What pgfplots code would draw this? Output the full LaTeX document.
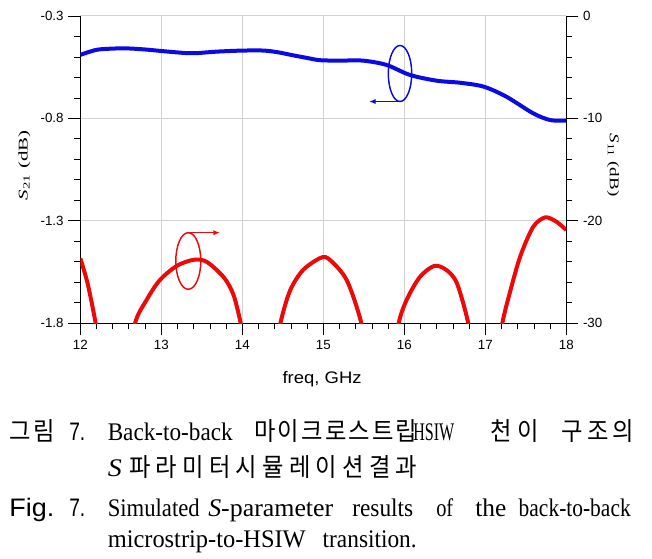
\documentclass[border=0pt]{standalone}
\usepackage{fontspec}
\setmainfont{Liberation Serif}
\setsansfont{Liberation Sans}
\newfontfamily\kr[FakeStretch=0.92]{Noto Sans CJK KR}
\usepackage{graphicx}
\usepackage{pgfplots}
\pgfplotsset{compat=1.18}
\usetikzlibrary{arrows.meta}
\newlength\px \setlength\px{0.75pt}
\newcommand\fw[2]{\resizebox{#1\px}{\height}{#2}}
\definecolor{cblue}{RGB}{10,10,230}
\definecolor{cred}{RGB}{235,10,10}

\begin{document}
\begin{tikzpicture}[px/.style={x=0.75pt,y=-0.75pt,shift={(-60.225pt,242.475pt)}},
  captxt/.style={anchor=base west, inner sep=0pt, font=\fontsize{19}{22}\selectfont},
  captxe/.style={anchor=base east, inner sep=0pt, font=\fontsize{19}{22}\selectfont}]
\begin{scope}[px]
\useasboundingbox (0,0) rectangle (652,559);
\end{scope}

\begin{axis}[
  at={(0,0)}, anchor=south west, scale only axis,
  width=364.5pt, height=230.5pt,
  xmin=12, xmax=18, ymin=-1.8, ymax=-0.3,
  axis x line*=bottom, axis y line*=left,
  axis line style={-, black, line width=0.8pt},
  xtick={12,13,...,18}, ytick={-1.8,-1.3,-0.8,-0.3},
  minor x tick num=4, minor y tick num=4,
  tick align=outside, major tick length=9pt, minor tick length=4.5pt,
  tick style={black, line width=0.6pt},
  grid=major, major grid style={color=black!18, line width=0.7pt},
  /pgf/number format/assume math mode=true,
  tick label style={font=\sffamily\fontsize{10}{12}\selectfont},
  yticklabel style={/pgf/number format/.cd, fixed, fixed zerofill, precision=1},
  every axis x label/.style={at={(axis description cs:0.4975,-0.181)}, anchor=center},
  every axis y label/.style={at={(axis description cs:-0.1148,0.515)}, anchor=center, rotate=90},
  xlabel={\sffamily\fontsize{12.5}{14}\selectfont\fw{79}{freq, GHz}},
  ylabel={\fontsize{10}{12}\selectfont\fw{70}{\textit{S}\textsubscript{21} (dB)}},
]
\addplot[cblue, line width=3pt, smooth] coordinates {
(12.0,-0.490) (12.12,-0.474) (12.24,-0.463) (12.53,-0.458) (12.78,-0.463)
(13.0,-0.471) (13.2,-0.478) (13.40,-0.482) (13.69,-0.474) (14.0,-0.469)
(14.27,-0.469) (14.45,-0.478) (14.60,-0.490) (14.8,-0.505) (14.96,-0.516)
(15.2,-0.518) (15.49,-0.518) (15.78,-0.539) (16.07,-0.588) (16.40,-0.616)
(16.69,-0.626) (16.98,-0.645) (17.26,-0.694) (17.59,-0.775) (17.80,-0.808)
(18.0,-0.811)};
\end{axis}

\begin{axis}[
  at={(0,0)}, anchor=south west, scale only axis,
  width=364.5pt, height=230.5pt,
  xmin=12, xmax=18, ymin=-30, ymax=0,
  axis y line*=right, axis x line=none,
  axis line style={-, black, line width=0.8pt},
  ytick={-30,-20,-10,0}, minor y tick num=4,
  tick align=outside, major tick length=9pt, minor tick length=4.5pt,
  tick style={black, line width=0.6pt},
  /pgf/number format/assume math mode=true,
  tick label style={font=\sffamily\fontsize{10}{12}\selectfont},
  every axis y label/.style={at={(axis description cs:1.096,0.515)}, anchor=center, rotate=-90},
  ylabel={\fontsize{10}{12}\selectfont\fw{63}{\textit{S}\textsubscript{11} (dB)}},
]
\addplot[cred, line width=3pt, smooth] coordinates {
(12.0,-23.66) (12.09,-26.1) (12.19,-30) (12.3,-35) (12.43,-42) (12.56,-35)
(12.675,-30) (12.82,-27.7) (12.98,-25.8) (13.19,-24.4) (13.40,-23.8)
(13.56,-24.0) (13.77,-25.5) (13.89,-27.2) (13.98,-30) (14.1,-35) (14.22,-42)
(14.35,-35) (14.47,-30) (14.59,-26.8) (14.75,-24.8) (14.97,-23.6)
(15.08,-23.8) (15.29,-25.8) (15.47,-30) (15.58,-35) (15.70,-42) (15.82,-35)
(15.93,-30) (16.03,-27.7) (16.19,-25.5) (16.37,-24.4) (16.52,-24.8)
(16.65,-26.1) (16.79,-30) (16.9,-35) (17.0,-42) (17.1,-35) (17.21,-30)
(17.30,-27.1) (17.43,-23.5) (17.59,-20.6) (17.74,-19.66) (17.88,-20.1)
(18.0,-20.9)};
\end{axis}

\begin{scope}[px]
% annotations
\draw[cblue, line width=1.1pt] (400,73.5) ellipse [x radius=11.7, y radius=28];
\draw[cblue, line width=1.1pt, -{Latex[length=5pt,width=4pt]}] (401.7,101.5) -- (369,101.5);
\draw[cred, line width=1.1pt] (188.3,261) ellipse [x radius=12.5, y radius=28.3];
\draw[cred, line width=1.1pt, -{Latex[length=5pt,width=4pt]}] (188.3,232.7) -- (220,232.7);
% caption line 1
\node[captxt] at (9,441) {\hbox to 46\px{\kr 그\hfill 림}};
\node[captxt] at (69,441) {\sffamily\fw{16}{7.}};
\node[captxt] at (107.5,441) {\fw{125}{Back-to-back}};
\node[captxt] at (254,441) {\hbox to 163\px{\kr 마\hfill 이\hfill 크\hfill 로\hfill 스\hfill 트\hfill 립}};
\node[captxt] at (413,441) {\fw{41}{HSIW}};
\node[captxt] at (490,441) {\hbox to 49\px{\kr 천\hfill 이}};
\node[captxe] at (634,441) {\hbox to 72\px{\kr 구\hfill 조\hfill 의}};
% caption line 2
\node[captxt] at (107.5,477) {\fw{14}{\textit{S}}};
\node[captxt] at (129,477) {\hbox to 288\px{\kr 파\hfill 라\hfill 미\hfill 터\hfill 시\hfill 뮬\hfill 레\hfill 이\hfill 션\hfill 결\hfill 과}};
% caption line 3
\node[captxt] at (9,516) {\sffamily\fw{45}{Fig.}};
\node[captxt] at (69,516) {\sffamily\fw{16}{7.}};
\node[captxt] at (107.5,516) {\fw{92}{Simulated}};
\node[captxt] at (208,516) {\fw{125}{\textit{S}-parameter}};
\node[captxt] at (352,516) {\fw{61}{results}};
\node[captxt] at (436,516) {\fw{17}{of}};
\node[captxt] at (475,516) {\fw{31}{the}};
\node[captxe] at (631,516) {\fw{112}{back-to-back}};
% caption line 4
\node[captxt] at (107.5,547) {\fw{198}{microstrip-to-HSIW}};
\node[captxe] at (417,547) {\fw{94}{transition.}};
\end{scope}
\end{tikzpicture}
\end{document}
